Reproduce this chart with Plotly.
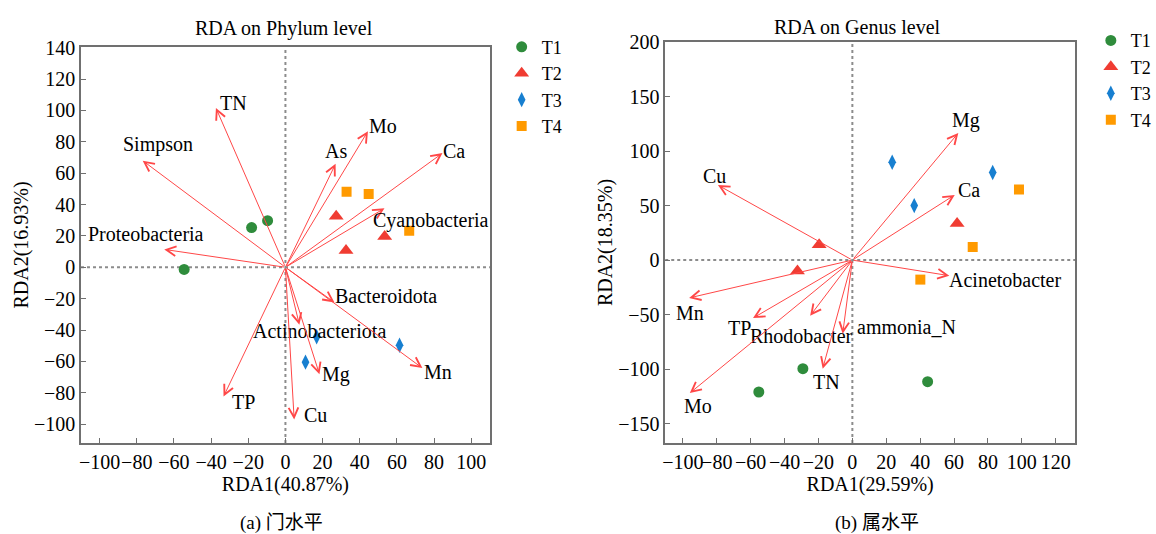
import plotly.graph_objects as go

# ---------------- data: (a) phylum level ----------------
env_names_a = ["TN", "Simpson", "Proteobacteria", "As", "Mo", "Ca", "Cyanobacteria",
               "Bacteroidota", "Actinobacteriota", "Mg", "Mn", "TP", "Cu"]
env_x_a = [-37.4, -76.8, -65.2, 27.0, 44.4, 84.5, 53.3, 26.4, 7.5, 18.3, 73.7, -33.3, 4.7]
env_y_a = [101.6, 68.0, 11.4, 66.0, 86.8, 72.8, 37.6, -22.4, -36.6, -68.2, -64.3, -82.4, -97.0]

groups = ["T1", "T2", "T3", "T4"]
samp_x_a = {"T1": [-18.2, -9.6, -54.5], "T2": [27.3, 32.6, 53.4],
            "T3": [16.8, 10.8, 61.4], "T4": [32.9, 44.8, 66.6]}
samp_y_a = {"T1": [25.3, 29.7, -1.4], "T2": [32.6, 10.7, 19.7],
            "T3": [-44.3, -60.5, -49.7], "T4": [48.2, 46.8, 23.3]}

# ---------------- data: (b) genus level ----------------
env_names_b = ["Mg", "Ca", "Cu", "Acinetobacter", "Mn", "TP", "Rhodobacter",
               "ammonia_N", "TN", "Mo"]
env_x_b = [62.5, 60.4, -79.3, 57.2, -96.3, -58.6, -24.9, -5.7, -17.5, -95.9]
env_y_b = [116.6, 59.8, 68.8, -14.3, -34.7, -53.2, -51.1, -67.5, -99.6, -122.0]

samp_x_b = {"T1": [-29.2, -55.2, 44.4], "T2": [61.8, -19.6, -32.4],
            "T3": [23.5, 36.5, 82.8], "T4": [98.3, 71.0, 40.1]}
samp_y_b = {"T1": [-99.6, -121.0, -111.5], "T2": [33.5, 14.0, -9.9],
            "T3": [89.7, 50.0, 80.4], "T4": [64.8, 12.0, -17.9]}

titles = ["RDA on Phylum level", "RDA on Genus level"]
xtitles = ["RDA1(40.87%)", "RDA1(29.59%)"]
ytitles = ["RDA2(16.93%)", "RDA2(18.35%)"]
subtitles = ["(a) 门水平", "(b) 属水平"]

# ---------------- styles ----------------
FONT = "'Liberation Serif', 'Noto Sans CJK SC', serif"
FS = 20
ARROW_COLOR = "#ff4747"
AXIS_COLOR = "#707070"
sym = {"T1": "circle", "T2": "triangle-up", "T3": "diamond-tall", "T4": "square"}
col = {"T1": "#2f8c3c", "T2": "#f03c32", "T3": "#177fd0", "T4": "#ff9a00"}
msize = {"T1": 11, "T2": 13, "T3": 11, "T4": 10}

# label pixel offsets relative to arrow tips
lab_off_a = {"TN": (18, 5), "Simpson": (15, 16), "Proteobacteria": (-18, 15), "As": (0, 13),
             "Mo": (15, 5), "Ca": (12, 2), "Cyanobacteria": (47, -12), "Bacteroidota": (52, 6),
             "Actinobacteriota": (20, -6), "Mg": (17, 0), "Mn": (16, -4), "TP": (20, -6),
             "Cu": (21, 4)}
lab_off_b = {"Mg": (8, 12), "Ca": (14, 5), "Cu": (-3, 9), "Acinetobacter": (56, -4),
             "Mn": (1, -15), "TP": (-14, -10), "Rhodobacter": (-9, -20), "ammonia_N": (64, 7),
             "TN": (4, -13), "Mo": (8, -13)}

W, H = 1156, 534
fig = go.Figure()

panels = [
    dict(xa="x", ya="y", legend="legend", sx=samp_x_a, sy=samp_y_a,
         ex=env_x_a, ey=env_y_a, en=env_names_a, off=lab_off_a),
    dict(xa="x2", ya="y2", legend="legend2", sx=samp_x_b, sy=samp_y_b,
         ex=env_x_b, ey=env_y_b, en=env_names_b, off=lab_off_b),
]

annotations = []
shapes = []
for p in panels:
    for g in groups:
        fig.add_trace(go.Scatter(
            x=p["sx"][g], y=p["sy"][g], mode="markers", name=g,
            xaxis=p["xa"], yaxis=p["ya"], legend=p["legend"],
            marker=dict(symbol=sym[g], color=col[g], size=msize[g], line=dict(width=0)),
        ))
    for name, x, y in zip(p["en"], p["ex"], p["ey"]):
        annotations.append(dict(
            x=x, y=y, ax=0, ay=0, xref=p["xa"], yref=p["ya"], axref=p["xa"], ayref=p["ya"],
            text="", showarrow=True, arrowhead=5, arrowsize=1.9, arrowwidth=1,
            arrowcolor=ARROW_COLOR, standoff=0, startstandoff=0))
        dx, dy = p["off"][name]
        annotations.append(dict(
            x=x, y=y, xref=p["xa"], yref=p["ya"], text=name, showarrow=False,
            xshift=dx, yshift=dy, font=dict(family=FONT, size=FS, color="black")))
    # dotted zero lines
    shapes.append(dict(type="line", xref=p["xa"], yref=p["ya"] + " domain", x0=0, x1=0, y0=0, y1=1,
                       line=dict(color="#8c8c8c", width=2, dash="dot"), layer="below"))
    shapes.append(dict(type="line", xref=p["xa"] + " domain", yref=p["ya"], x0=0, x1=1, y0=0, y1=0,
                       line=dict(color="#8c8c8c", width=2, dash="dot"), layer="below"))

# panel titles and subtitles
for tx, cx, ty in [(titles[0], 286, 18.3), (titles[1], 869, 16.5)]:
    annotations.append(dict(text=tx, x=cx / W, y=1 - ty / H, xref="paper", yref="paper",
                            showarrow=False, xanchor="center", yanchor="middle",
                            font=dict(family=FONT, size=20, color="black")))
for tx, cx in [(subtitles[0], 283), (subtitles[1], 889)]:
    annotations.append(dict(text=tx, x=cx / W, y=1 - 523 / H, xref="paper", yref="paper",
                            showarrow=False, xanchor="center", yanchor="middle",
                            font=dict(family=FONT, size=19, color="black")))

axis_common = dict(showline=True, mirror=True, linecolor=AXIS_COLOR, linewidth=1.5,
                   ticks="inside", ticklen=5, tickwidth=1.2, tickcolor=AXIS_COLOR,
                   showgrid=False, zeroline=False, tickangle=0,
                   tickfont=dict(family=FONT, size=FS, color="black"))

def ttl(t, so=2):
    return dict(text=t, font=dict(family=FONT, size=FS, color="black"), standoff=so)

fig.update_layout(
    width=W, height=H, margin=dict(l=0, r=0, t=0, b=0),
    paper_bgcolor="white", plot_bgcolor="white",
    font=dict(family=FONT, size=FS, color="black"),
    xaxis=dict(domain=[79.3 / W, 495 / W], range=[-110, 110], dtick=20, tick0=0,
               title=ttl(xtitles[0], 4), **axis_common),
    yaxis=dict(domain=[1 - 441 / H, 1 - 36.7 / H], range=[-112, 140.5], dtick=20, tick0=0,
               title=ttl(ytitles[0], 0), **axis_common),
    xaxis2=dict(domain=[673.3 / W, 1090 / W], range=[-110.4, 131.4], dtick=20, tick0=0,
                anchor="y2", title=ttl(xtitles[1], 4), **axis_common),
    yaxis2=dict(domain=[1 - 441 / H, 1 - 31.7 / H], range=[-167.7, 200], dtick=50, tick0=0,
                anchor="x2", title=ttl(ytitles[1], 0), **axis_common),
    legend=dict(x=507 / W, y=1 - 18 / H, xanchor="left", yanchor="top",
                font=dict(family=FONT, size=18, color="black"), bgcolor="rgba(0,0,0,0)",
                itemwidth=30, tracegroupgap=0),
    legend2=dict(x=1106 / W, y=1 - 11.5 / H, xanchor="left", yanchor="top",
                 font=dict(family=FONT, size=18, color="black"), bgcolor="rgba(0,0,0,0)",
                 itemwidth=30, tracegroupgap=0),
    annotations=annotations,
    shapes=shapes,
)

fig.write_html("out.html")
